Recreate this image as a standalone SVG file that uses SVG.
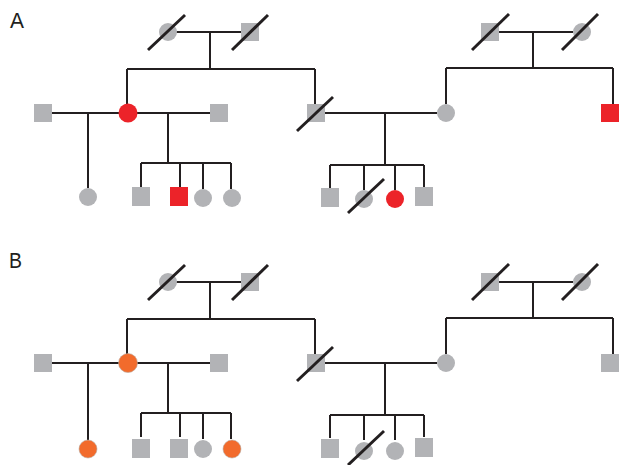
<svg xmlns="http://www.w3.org/2000/svg" width="619" height="465" viewBox="0 0 619 465">
  <style>
    .ln { stroke: #231f20; stroke-width: 2; fill: none; }
    .dec { stroke: #231f20; stroke-width: 3; }
    .g { fill: #b2b3b6; }
    .r { fill: #ec2329; }
    .o { fill: #f26b2c; stroke: #b8a9a0; stroke-width: 0.6; }
    .lbl { font-family: "Liberation Sans", Arial, sans-serif; font-size: 22px; fill: #231f20; }
  </style>

  <!-- Panel A -->
  <text class="lbl" x="10" y="28" textLength="14" lengthAdjust="spacingAndGlyphs">A</text>
  <g id="pedigree-a">
    <g id="a-connectors">
      <path class="ln" d="M168 32 H241 M210 32 V69 M127 69 H315 M127 69 V104 M315 69 V104"/>
      <path class="ln" d="M52 113 H119 M88 113 V188 M137 113 H210 M168 113 V163 M141 163 H231 M141 163 V187 M180 163 V187 M203 163 V189 M231 163 V189"/>
      <path class="ln" d="M324 113 H437 M385 113 V165 M330 165 H424 M330 165 V188 M364 165 V190 M395 165 V190 M424 165 V187"/>
      <path class="ln" d="M499 32 H573 M533 32 V68 M446 68 H613 M446 68 V104 M613 68 V104"/>
    </g>
    <g id="a-gm1"><circle class="g" cx="168" cy="32" r="9"/><line class="dec" x1="148" y1="50" x2="185" y2="15"/></g>
    <g id="a-gf1"><rect class="g" x="241" y="23" width="18" height="18"/><line class="dec" x1="232" y1="50" x2="268" y2="15"/></g>
    <g id="a-gf2"><rect class="g" x="481" y="23" width="18" height="18"/><line class="dec" x1="472" y1="50" x2="509" y2="14"/></g>
    <g id="a-gm2"><circle class="g" cx="582" cy="32" r="9"/><line class="dec" x1="562" y1="50" x2="598" y2="14"/></g>
    <g id="a-sp1"><rect class="g" x="34" y="104" width="18" height="18"/></g>
    <g id="a-mother"><circle class="r" cx="128" cy="113" r="9.5"/></g>
    <g id="a-sp2"><rect class="g" x="210" y="104" width="18" height="18"/></g>
    <g id="a-uncle"><rect class="g" x="307" y="104" width="18" height="18"/><line class="dec" x1="297" y1="131" x2="333" y2="97"/></g>
    <g id="a-aunt"><circle class="g" cx="446" cy="113" r="9"/></g>
    <g id="a-uncle2"><rect class="r" x="601" y="104" width="18" height="18"/></g>
    <g id="a-c1"><circle class="g" cx="88" cy="197" r="9"/></g>
    <g id="a-c2"><rect class="g" x="132" y="187" width="18" height="19"/></g>
    <g id="a-c3"><rect class="r" x="170" y="187" width="18" height="19"/></g>
    <g id="a-c4"><circle class="g" cx="203" cy="198" r="9"/></g>
    <g id="a-c5"><circle class="g" cx="232" cy="198" r="9"/></g>
    <g id="a-c6"><rect class="g" x="321" y="188" width="18" height="19"/></g>
    <g id="a-c7"><circle class="g" cx="364" cy="199" r="9"/><line class="dec" x1="348" y1="213" x2="384" y2="179"/></g>
    <g id="a-c8"><circle class="r" cx="395" cy="199" r="9"/></g>
    <g id="a-c9"><rect class="g" x="415" y="187" width="18" height="19"/></g>
  </g>

  <!-- Panel B -->
  <text class="lbl" x="9" y="268" textLength="13" lengthAdjust="spacingAndGlyphs">B</text>
  <g id="pedigree-b" transform="translate(0,250)">
    <g id="b-connectors">
      <path class="ln" d="M168 32 H241 M210 32 V69 M127 69 H315 M127 69 V104 M315 69 V104"/>
      <path class="ln" d="M52 113 H119 M88 113 V190 M137 113 H210 M168 113 V163 M141 163 H231 M141 163 V187 M180 163 V187 M203 163 V189 M231 163 V189"/>
      <path class="ln" d="M324 113 H437 M385 113 V165 M330 165 H424 M330 165 V188 M364 165 V190 M395 165 V190 M424 165 V187"/>
      <path class="ln" d="M499 32 H573 M533 32 V68 M446 68 H613 M446 68 V104 M613 68 V104"/>
    </g>
    <g id="b-gm1"><circle class="g" cx="168" cy="32" r="9"/><line class="dec" x1="148" y1="50" x2="185" y2="15"/></g>
    <g id="b-gf1"><rect class="g" x="241" y="23" width="18" height="18"/><line class="dec" x1="232" y1="50" x2="268" y2="15"/></g>
    <g id="b-gf2"><rect class="g" x="481" y="23" width="18" height="18"/><line class="dec" x1="472" y1="50" x2="509" y2="14"/></g>
    <g id="b-gm2"><circle class="g" cx="582" cy="32" r="9"/><line class="dec" x1="562" y1="50" x2="598" y2="14"/></g>
    <g id="b-sp1"><rect class="g" x="34" y="104" width="18" height="18"/></g>
    <g id="b-mother"><circle class="o" cx="128" cy="113" r="9.5"/></g>
    <g id="b-sp2"><rect class="g" x="210" y="104" width="18" height="18"/></g>
    <g id="b-uncle"><rect class="g" x="307" y="104" width="18" height="18"/><line class="dec" x1="297" y1="131" x2="333" y2="97"/></g>
    <g id="b-aunt"><circle class="g" cx="446" cy="113" r="9"/></g>
    <g id="b-uncle2"><rect class="g" x="601" y="104" width="18" height="18"/></g>
    <g id="b-c1"><circle class="o" cx="88" cy="199" r="9"/></g>
    <g id="b-c2"><rect class="g" x="132" y="189" width="18" height="19"/></g>
    <g id="b-c3"><rect class="g" x="170" y="189" width="18" height="19"/></g>
    <g id="b-c4"><circle class="g" cx="203" cy="199" r="9"/></g>
    <g id="b-c5"><circle class="o" cx="232" cy="199" r="9"/></g>
    <g id="b-c6"><rect class="g" x="321" y="189" width="18" height="19"/></g>
    <g id="b-c7"><circle class="g" cx="364" cy="201" r="9"/><line class="dec" x1="348" y1="215" x2="384" y2="181"/></g>
    <g id="b-c8"><circle class="g" cx="395" cy="201" r="9"/></g>
    <g id="b-c9"><rect class="g" x="415" y="188" width="18" height="19"/></g>
  </g>
</svg>
